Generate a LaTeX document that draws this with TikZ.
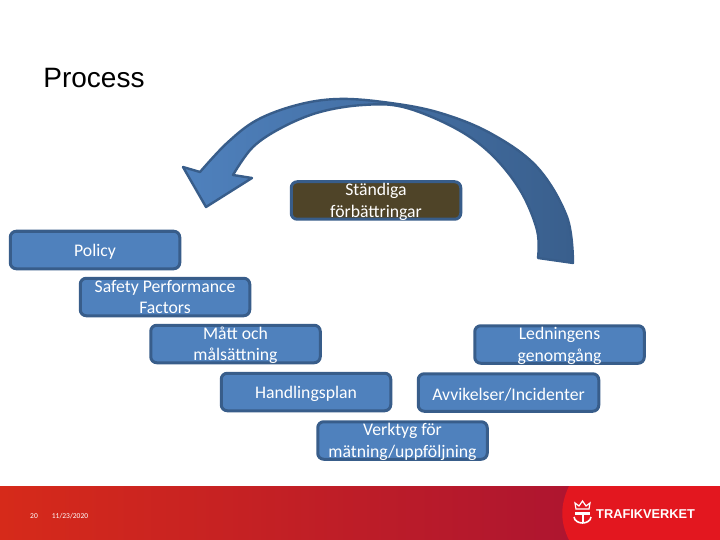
\documentclass[tikz,border=0pt]{standalone}
\usepackage{fontspec}
\setmainfont{Carlito}
\newfontfamily\titlefont{Liberation Sans}
\newfontfamily\logofont{Liberation Sans}
\definecolor{boxblue}{HTML}{4F81BD}
\definecolor{boxline}{HTML}{385D8A}
\definecolor{boxbrown}{HTML}{4F4428}
\definecolor{bandred}{HTML}{E3171F}
\definecolor{bandleft}{HTML}{D62A1A}
\definecolor{bandmid}{HTML}{C41D28}
\definecolor{bandright}{HTML}{AE1530}
\newcommand{\twolines}[2]{\raisebox{2pt}[0pt][0pt]{\begin{tabular}{@{}c@{}}#1\\#2\end{tabular}}}
\begin{document}
\begin{tikzpicture}[
    x = 1pt, y = -1pt,
    procbox/.style = {draw = boxline, fill = boxblue, line width = 3pt, rounded corners = 6pt,
      minimum width = 169.5pt, minimum height = 37.5pt, inner sep = 0pt,
      text = white, font = \fontsize{17.7}{21.5}\selectfont,
      execute at begin node = {\rule{0pt}{16.5pt}}},
    footlabel/.style = {text = white, inner sep = 0pt, font = \fontsize{7.5}{9}\selectfont},
  ]
  \useasboundingbox (0,0) rectangle (720,540);
  \fill[white] (0,0) rectangle (720,540);

  \node[inner sep = 0pt, font = \titlefont\fontsize{28}{30}\selectfont] (title) at (94,78) {Process};

  % big arrow
  \draw[boxline, line width = 2.4pt, line join = round, left color = boxblue, right color = boxline!95!boxblue]
    plot[smooth, tension = 0.6] coordinates {(573,263) (567,217) (537,167) (490,133) (437,112) (383,102)
      (337,99) (297,105) (257,120) (227,143) (200,172)}
    -- (183,167) -- (206,207) -- (252,178) -- (233,175)
    -- plot[smooth, tension = 0.6] coordinates {(233,175) (253,147) (283,127) (320,112) (363,105) (403,107)
      (453,127) (490,153) (520,190) (537,230) (538,258)}
    -- cycle;

  \node[procbox, fill = boxbrown] (standiga) at (376,200.5) {\twolines{Ständiga}{förbättringar}};
  \node[procbox] (policy) at (95,250) {Policy};
  \node[procbox] (safety) at (165,297) {\twolines{Safety Performance}{Factors}};
  \node[procbox] (matt) at (235.5,344) {\twolines{Mått och}{målsättning}};
  \node[procbox] (ledning) at (559.5,344.5) {\twolines{Ledningens}{genomgång}};
  \node[procbox] (handling) at (306,392) {Handlingsplan};
  \node[procbox, minimum width = 180.5pt] (avvik) at (508.5,392.5) {Avvikelser/Incidenter};
  \node[procbox] (verktyg) at (402.5,440.5) {\twolines{Verktyg för}{mätning/uppföljning}};

  % footer band
  \shade[left color = bandleft, middle color = bandmid, right color = bandright] (0,486) rectangle (575,540);
  \fill[bandred] (569,486) .. controls (560,505) and (560,522) .. (569,540) -- (720,540) -- (720,486) -- cycle;

  \node[footlabel] (pagenr) at (34,516) {20};
  \node[footlabel] (datum) at (70,516) {11/23/2020};

  % logo
  \fill[white] (575,512) rectangle (590,514.5);
  \fill[white] (581.5,512) rectangle (583.5,522);
  \draw[white, line width = 1.6pt] (574,517) .. controls (575,525) and (590,525) .. (591,517);
  \draw[white, line width = 1.2pt] (576,509) -- (575,503) -- (579,506) -- (582.5,501) -- (586,506) -- (590,503) -- (589,509) -- cycle;
  \node[inner sep = 0pt, text = white, anchor = west, font = \logofont\bfseries\fontsize{12.8}{16}\selectfont] (logo) at (596,514) {TRAFIKVERKET};
\end{tikzpicture}
\end{document}
